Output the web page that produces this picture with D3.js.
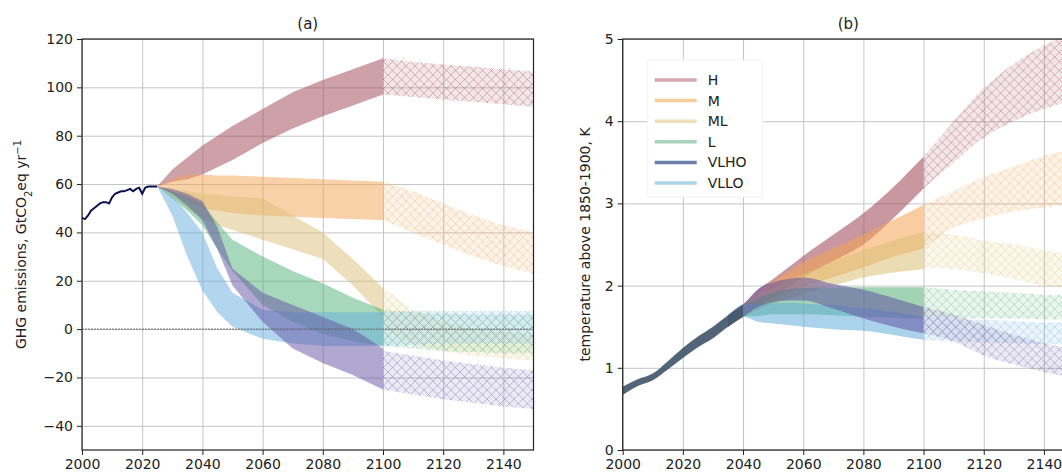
<!DOCTYPE html>
<html>
<head>
<meta charset="utf-8">
<script src="https://cdn.jsdelivr.net/npm/d3@7"></script>
<style>
  body { margin: 0; background: #fff; }
  text { font-family: "DejaVu Sans", sans-serif; fill: #222; }
</style>
</head>
<body>
<div id="chart"></div>
<script>
// scenario names (legend order)
var scenarios = ["H", "M", "ML", "L", "VLHO", "VLLO"];
// draw order (VLHO on top)
var drawOrder = ["H", "M", "ML", "L", "VLLO", "VLHO"];
var colors = {H: "#9d4152", M: "#f4a452", ML: "#dcbf77", L: "#52b177", VLHO: "#6452a4", VLLO: "#64addb"};
var legendColors = {H: "#d3a6ae", M: "#f5cc9c", ML: "#efdfbe", L: "#a9d4bb", VLHO: "#6c7fab", VLLO: "#acd4ea"};

// ---- panel (a) data: GHG emissions, GtCO2eq/yr ----
var histYears = [2000, 2001, 2002, 2003, 2004, 2005, 2006, 2007, 2008, 2009, 2010, 2011, 2012,
                 2013, 2014, 2015, 2016, 2017, 2018, 2019, 2020, 2021, 2022, 2023, 2024, 2025];
var histEmis = [46, 45.5, 47, 49, 50, 51, 52, 52.5, 52.5, 52, 54.5, 56, 56.5,
                57, 57, 57.5, 58, 57, 58, 58.5, 56, 58.5, 59, 59, 59, 59];

var yearsA = [2025, 2030, 2035, 2040, 2045, 2050, 2060, 2070, 2080, 2090, 2100];
var emisHi = {
  H:    [59, 66, 71, 76, 80, 84, 91, 98, 103, 107.5, 112],
  M:    [59, 62, 64, 64, 63.5, 63.5, 63, 62.5, 62, 61.5, 61],
  ML:   [59, 58, 57, 56, 55.5, 55, 54, 47, 40, 29, 17],
  L:    [59, 57, 55, 52, 44, 37, 30, 24, 19, 13, 8],
  VLHO: [59, 58, 56, 53, 42, 25, 15, 10, 5, 0, -8],
  VLLO: [59, 55, 48, 40, 25, 15, 8, 7, 7, 7, 7]
};
var emisLo = {
  H:    [59, 61, 62, 64, 67, 70, 77, 83, 88, 92.5, 97],
  M:    [59, 56, 53, 50, 49, 48, 47, 46.5, 46, 45.5, 45],
  ML:   [59, 55, 50, 46, 43, 41, 37, 33, 29, 18, 5],
  L:    [59, 54, 49, 43, 33, 24, 10, 3, -2, -5, -7],
  VLHO: [59, 56, 51, 45, 33, 18, 3, -8, -14, -19, -25],
  VLLO: [59, 47, 30, 16, 7, 1, -4, -6, -7, -7, -7]
};
var yearsExt = [2100, 2110, 2120, 2130, 2140, 2150];
var emisExtHi = {
  H:    [112, 110.5, 109.5, 108.5, 107.5, 106.5],
  M:    [61, 57, 52, 47, 43, 40],
  ML:   [17, 8, 3, 0, -1, -2],
  L:    [8, 7, 6.5, 6, 6, 6],
  VLHO: [-9, -11, -13, -14.5, -16, -17],
  VLLO: [7, 7.5, 7.5, 7.5, 7.5, 7.5]
};
var emisExtLo = {
  H:    [97, 96, 95, 94, 93, 92],
  M:    [45, 40, 35, 30, 26, 23],
  ML:   [0, -6, -9, -11, -12, -13],
  L:    [-7, -8, -9, -9.5, -10, -10],
  VLHO: [-25, -27, -29, -30.5, -32, -33],
  VLLO: [-7, -6.5, -6, -6, -6, -6]
};

// ---- panel (b) data: temperature above 1850-1900, K ----
var yearsEarlyB = [2000, 2005, 2010, 2015, 2020, 2025, 2030, 2035, 2040];
var tempEarlyHi = [0.77, 0.86, 0.93, 1.08, 1.24, 1.38, 1.5, 1.64, 1.77];
var tempEarlyLo = [0.67, 0.78, 0.85, 0.98, 1.12, 1.25, 1.36, 1.5, 1.62];
var yearsB = [2045, 2050, 2055, 2060, 2070, 2080, 2090, 2100];
var tempHi = {
  H:    [1.95, 2.08, 2.22, 2.36, 2.62, 2.88, 3.2, 3.57],
  M:    [1.92, 2.05, 2.17, 2.28, 2.45, 2.62, 2.8, 2.98],
  ML:   [1.87, 1.97, 2.06, 2.14, 2.3, 2.43, 2.55, 2.65],
  L:    [1.85, 1.92, 1.96, 1.97, 1.98, 1.98, 1.98, 1.98],
  VLHO: [1.96, 2.04, 2.08, 2.1, 2.02, 1.95, 1.85, 1.74],
  VLLO: [1.78, 1.79, 1.79, 1.78, 1.76, 1.72, 1.68, 1.62]
};
var tempLo = {
  H:    [1.76, 1.86, 1.98, 2.1, 2.3, 2.5, 2.82, 3.18],
  M:    [1.72, 1.8, 1.9, 1.98, 2.1, 2.22, 2.35, 2.45],
  ML:   [1.7, 1.78, 1.84, 1.9, 2.0, 2.1, 2.16, 2.2],
  L:    [1.63, 1.65, 1.65, 1.65, 1.64, 1.62, 1.61, 1.6],
  VLHO: [1.74, 1.8, 1.82, 1.82, 1.72, 1.6, 1.5, 1.42],
  VLLO: [1.56, 1.54, 1.52, 1.5, 1.47, 1.45, 1.4, 1.34]
};
var tempExtHi = {
  H:    [3.57, 4.0, 4.4, 4.7, 4.92, 5.08],
  M:    [2.98, 3.15, 3.32, 3.45, 3.58, 3.65],
  ML:   [2.65, 2.62, 2.55, 2.5, 2.43, 2.38],
  L:    [1.98, 1.95, 1.93, 1.91, 1.89, 1.88],
  VLHO: [1.74, 1.65, 1.52, 1.4, 1.3, 1.22],
  VLLO: [1.62, 1.6, 1.58, 1.57, 1.55, 1.55]
};
var tempExtLo = {
  H:    [3.18, 3.5, 3.8, 4.0, 4.15, 4.25],
  M:    [2.45, 2.7, 2.82, 2.9, 2.95, 3.0],
  ML:   [2.22, 2.2, 2.15, 2.08, 2.0, 1.96],
  L:    [1.62, 1.61, 1.6, 1.6, 1.59, 1.58],
  VLHO: [1.42, 1.32, 1.15, 1.04, 0.95, 0.88],
  VLLO: [1.34, 1.32, 1.31, 1.3, 1.29, 1.28]
};

var xTicks = [2000, 2020, 2040, 2060, 2080, 2100, 2120, 2140];

var svg = d3.select("#chart").append("svg")
    .attr("width", 1062)
    .attr("height", 475);

// hatch patterns, one per scenario
var defs = svg.append("defs");
scenarios.forEach(function(s) {
  var p = defs.append("pattern")
      .attr("id", "hatch-" + s)
      .attr("patternUnits", "userSpaceOnUse")
      .attr("width", 9).attr("height", 9);
  p.append("path")
      .attr("d", "M-1,-1L10,10M10,-1L-1,10")
      .attr("stroke", colors[s])
      .attr("stroke-opacity", 0.35)
      .attr("stroke-width", 1);
});

function zip(years, hi, lo) {
  return years.map(function(y, i) { return {year: y, hi: hi[i], lo: lo[i]}; });
}

function makePanel(opts) {
  var width = opts.right - opts.left,
      height = opts.bottom - opts.top;
  var g = svg.append("g")
      .attr("transform", "translate(" + opts.left + "," + opts.top + ")");

  var x = d3.scaleLinear().domain([2000, 2150]).range([0, width]);
  var y = d3.scaleLinear().domain(opts.yDomain).range([height, 0]);

  g.append("clipPath").attr("id", "clip-" + opts.id)
    .append("rect").attr("width", width).attr("height", height);

  // grid
  g.append("g")
      .attr("class", "grid")
      .attr("transform", "translate(0," + height + ")")
      .call(d3.axisBottom(x).tickValues(xTicks).tickSize(-height).tickFormat(""));
  g.append("g")
      .attr("class", "grid")
      .call(d3.axisLeft(y).tickValues(opts.yTicks).tickSize(-width).tickFormat(""));
  g.selectAll(".grid line").attr("stroke", "#c4c4c4").attr("stroke-width", 1);
  g.selectAll(".grid .domain").remove();

  var area = d3.area()
      .curve(opts.curve)
      .x(function(d) { return x(d.year); })
      .y0(function(d) { return y(d.lo); })
      .y1(function(d) { return y(d.hi); });

  var bands = g.append("g").attr("clip-path", "url(#clip-" + opts.id + ")");
  drawOrder.forEach(function(s) {
    bands.append("path")
        .datum(opts.solid(s))
        .attr("d", area)
        .attr("fill", colors[s])
        .attr("fill-opacity", opts.opacity);
  });
  if (opts.common) {
    bands.append("path")
        .datum(opts.common)
        .attr("d", area)
        .attr("fill", "#43576b")
        .attr("fill-opacity", 0.92);
  }
  drawOrder.forEach(function(s) {
    var ext = opts.ext(s);
    bands.append("path").datum(ext).attr("d", area)
        .attr("fill", colors[s]).attr("fill-opacity", 0.13);
    bands.append("path").datum(ext).attr("d", area)
        .attr("fill", "url(#hatch-" + s + ")");
  });

  // axes
  var xAxis = g.append("g")
      .attr("transform", "translate(0," + height + ")")
      .call(d3.axisBottom(x).tickValues(xTicks).tickSize(5).tickPadding(4).tickFormat(d3.format("d")));
  var yAxis = g.append("g")
      .call(d3.axisLeft(y).tickValues(opts.yTicks).tickSize(5).tickPadding(4)
        .tickFormat(function(d) { return d < 0 ? "\u2212" + Math.abs(d) : d; }));
  [xAxis, yAxis].forEach(function(a) {
    a.selectAll("text").style("font-size", "14px").attr("fill", "#222");
    a.selectAll("line").attr("stroke", "#222");
    a.select(".domain").remove();
  });

  // frame
  g.append("rect")
      .attr("width", width).attr("height", height)
      .attr("fill", "none").attr("stroke", "#222").attr("stroke-width", 1.2);

  g.append("text")
      .attr("x", width / 2).attr("y", -10)
      .attr("text-anchor", "middle")
      .style("font-size", "15px")
      .text(opts.title);

  return {g: g, x: x, y: y, width: width, height: height};
}

// ---------- panel (a) ----------
var pa = makePanel({
  id: "a", title: "(a)",
  left: 82, right: 533.5, top: 39, bottom: 450,
  yDomain: [-50, 120], yTicks: [-40, -20, 0, 20, 40, 60, 80, 100, 120],
  curve: d3.curveLinear, opacity: 0.5,
  solid: function(s) { return zip(yearsA, emisHi[s], emisLo[s]); },
  ext: function(s) { return zip(yearsExt, emisExtHi[s], emisExtLo[s]); }
});

// zero line
pa.g.append("line")
    .attr("x1", 0).attr("x2", pa.width)
    .attr("y1", pa.y(0)).attr("y2", pa.y(0))
    .attr("stroke", "#666").attr("stroke-width", 1)
    .attr("stroke-dasharray", "2,1");

// historical emissions
pa.g.append("path")
    .datum(histYears.map(function(yr, i) { return {year: yr, v: histEmis[i]}; }))
    .attr("fill", "none")
    .attr("stroke", "#0b1150")
    .attr("stroke-width", 2)
    .attr("d", d3.line().x(function(d) { return pa.x(d.year); }).y(function(d) { return pa.y(d.v); }));

var labA = svg.append("text")
    .attr("transform", "translate(26," + (39 + pa.height / 2) + ") rotate(-90)")
    .attr("text-anchor", "middle")
    .style("font-size", "14px");
labA.append("tspan").text("GHG emissions, GtCO");
labA.append("tspan").attr("baseline-shift", "sub").style("font-size", "10px").text("2");
labA.append("tspan").text("eq yr");
labA.append("tspan").attr("baseline-shift", "super").style("font-size", "10px").text("\u22121");

// ---------- panel (b) ----------
var pb = makePanel({
  id: "b", title: "(b)",
  left: 622.7, right: 1074, top: 39, bottom: 450,
  yDomain: [0, 5], yTicks: [0, 1, 2, 3, 4, 5],
  curve: d3.curveMonotoneX, opacity: 0.55,
  common: zip(yearsEarlyB, tempEarlyHi, tempEarlyLo),
  solid: function(s) {
    return zip(yearsEarlyB.slice(-2).concat(yearsB), tempEarlyHi.slice(-2).concat(tempHi[s]),
               tempEarlyLo.slice(-2).concat(tempLo[s]));
  },
  ext: function(s) { return zip(yearsExt, tempExtHi[s], tempExtLo[s]); }
});

svg.append("text")
    .attr("transform", "translate(590," + (39 + pb.height / 2) + ") rotate(-90)")
    .attr("text-anchor", "middle")
    .style("font-size", "14px")
    .text("temperature above 1850-1900, K");

// legend
var legend = pb.g.append("g").attr("transform", "translate(25,21)");
legend.append("rect")
    .attr("width", 115).attr("height", 137)
    .attr("fill", "#fff").attr("stroke", "#f2f2f2");
scenarios.forEach(function(s, i) {
  var row = legend.append("g").attr("transform", "translate(0," + (20 + i * 20.6) + ")");
  row.append("line")
      .attr("x1", 7).attr("x2", 49)
      .attr("stroke", legendColors[s]).attr("stroke-width", 3.5);
  row.append("text")
      .attr("x", 60).attr("dy", "0.35em")
      .style("font-size", "14px")
      .text(s);
});
</script>
</body>
</html>
